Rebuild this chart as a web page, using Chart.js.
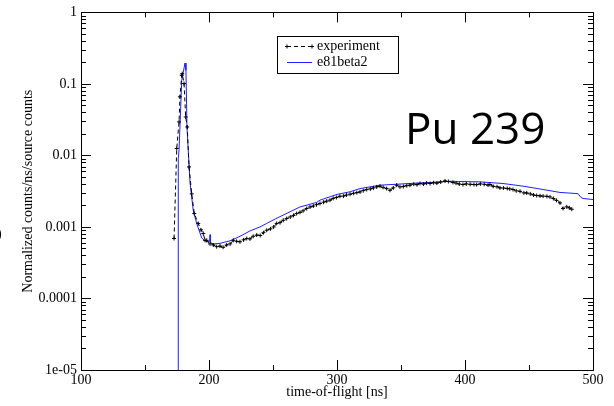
<!DOCTYPE html>
<html>
<head>
<meta charset="utf-8">
<script src="https://cdn.jsdelivr.net/npm/chart.js@4.4.1/dist/chart.umd.min.js"></script>
<style>
  html, body { margin: 0; padding: 0; background: #fff; }
  #wrap { width: 614px; height: 406px; position: relative; }
</style>
</head>
<body>
<div id="wrap"><canvas id="tof"></canvas></div>
<script>
// Pu-239 time-of-flight spectrum: measurement vs. simulation
const expTime = [172.7, 174.8, 176.6, 177.3, 178.7, 179.1, 180.5, 181.8, 183.0, 184.4, 186.5, 188.5,
  191.6, 193.75, 195.5, 196.9, 198.2, 200.8, 203.4, 206, 208.6, 211, 213.8, 216.5, 219, 221.6, 224.2,
  227, 229.5, 232, 234.5, 237.3, 240, 242.5, 245.1, 248, 250.5, 252.9, 255.5, 258, 260.7, 263.5, 266,
  268.5, 271.1, 273.5, 276.3, 278.9, 281.5, 284, 286.7, 289.5, 292, 294.5, 297, 299.5, 302.3, 305,
  307.5, 310.2, 313, 315.5, 318, 320.5, 323.2, 326, 328.5, 331, 333.6, 336, 338.8, 341.4, 344, 346.6,
  349.2, 351.8, 354.5, 357, 360, 362.5, 364.8, 367.5, 370, 372.7, 375.5, 378, 381, 384.4, 387, 390.6,
  393, 395.5, 398.4, 401, 404, 407, 409.1, 412, 415, 418, 419.5, 422, 425, 427.3, 430, 433, 435, 437.5,
  440, 443, 446, 448.2, 451, 453.5, 456, 458.6, 461, 464, 466.4, 469, 471.5, 474.2, 476.6, 479.5,
  481.5, 483.4];
const expCounts = [0.00069, 0.0125, 0.0294, 0.066, 0.132, 0.139, 0.101, 0.0345, 0.025, 0.0069, 0.0029,
  0.00154, 0.00112, 0.00091, 0.00081, 0.00065, 0.00065, 0.00058, 0.00056, 0.00053, 0.00054, 0.00052,
  0.00056, 0.00058, 0.00065, 0.00063, 0.00062, 0.00066, 0.00069, 0.00068, 0.00074, 0.00077, 0.00076,
  0.00083, 0.0009, 0.00094, 0.001, 0.00112, 0.00115, 0.00124, 0.00131, 0.00138, 0.00145, 0.00154,
  0.0016, 0.00168, 0.00181, 0.0019, 0.00196, 0.00205, 0.00213, 0.00222, 0.0023, 0.00237, 0.00251,
  0.00258, 0.00269, 0.0027, 0.0028, 0.00287, 0.00296, 0.00302, 0.00309, 0.00322, 0.00334, 0.0034,
  0.00352, 0.00363, 0.00372, 0.00358, 0.00344, 0.00326, 0.00352, 0.00384, 0.00363, 0.00368, 0.00378,
  0.00384, 0.00396, 0.0039, 0.00405, 0.00398, 0.0041, 0.00405, 0.00415, 0.0041, 0.00425, 0.0044,
  0.00432, 0.00419, 0.0041, 0.00398, 0.00392, 0.004, 0.00395, 0.00392, 0.0039, 0.004, 0.00395,
  0.00385, 0.00392, 0.0037, 0.00365, 0.00352, 0.0035, 0.00345, 0.0034, 0.00334, 0.0032, 0.00315,
  0.003, 0.00299, 0.0029, 0.0028, 0.00275, 0.00272, 0.0027, 0.00268, 0.00263, 0.0025, 0.00235,
  0.00217, 0.00181, 0.00191, 0.00185, 0.00177];
const simTime = [175.9, 176.0, 176.6, 178.7, 181.25, 182.0, 182.8, 183.8, 185.2, 187.7, 190.4, 194.3,
  198.2, 200.5, 200.8, 201.2, 203.4, 208.6, 216.4, 224.2, 232, 239.8, 245, 252, 263.3, 271, 284,
  286.7, 300, 310, 318, 333.6, 349.2, 364.8, 372.7, 388.3, 395, 411.7, 429.7, 445.3, 461, 474.2, 486,
  488.3, 490.5, 492.2, 500];
const simCounts = [0.000001, 0.009, 0.012, 0.112, 0.196, 0.155, 0.025, 0.0118, 0.0041, 0.0017, 0.00112,
  0.0007, 0.00062, 0.00063, 0.00078, 0.0006, 0.00058, 0.00059, 0.00064, 0.00074, 0.00088, 0.001,
  0.00112, 0.0013, 0.00163, 0.0019, 0.0022, 0.00237, 0.00285, 0.0031, 0.00344, 0.00384, 0.00398,
  0.00413, 0.00418, 0.00436, 0.00432, 0.00427, 0.00405, 0.00372, 0.00334, 0.00304, 0.00294, 0.00292,
  0.0026, 0.0025, 0.00242];
const seriesNames = ['experiment', 'e81beta2'];
const xTicks = [100, 200, 300, 400, 500];
const yTicks = [1, 0.1, 0.01, 0.001, 0.0001, 0.00001];
const yTickLabels = ['1', '0.1', '0.01', '0.001', '0.0001', '1e-05'];
const isotopeLabel = 'Pu 239';

const serif = '"Liberation Serif", "Times New Roman", serif';

function toPoints(xs, ys) {
    return xs.map((x, i) => ({ x: x, y: ys[i] }));
}

// inward ticks on all four sides, plus the frame
const frameTicks = {
    id: 'frameTicks',
    afterDatasetsDraw(chart) {
        const { ctx, chartArea: a, scales: { x, y } } = chart;
        ctx.save();
        ctx.strokeStyle = '#000';
        ctx.lineWidth = 1;
        const seg = (x1, y1, x2, y2) => {
            ctx.beginPath();
            ctx.moveTo(x1, y1);
            ctx.lineTo(x2, y2);
            ctx.stroke();
        };
        for (let v = xTicks[0]; v <= xTicks[xTicks.length - 1]; v += 50) {
            const px = Math.round(x.getPixelForValue(v)) + 0.5;
            const len = xTicks.includes(v) ? 10 : 5;
            seg(px, a.bottom, px, a.bottom - len);
            seg(px, a.top, px, a.top + len);
        }
        yTicks.forEach(dec => {
            const py = Math.round(y.getPixelForValue(dec)) + 0.5;
            seg(a.left, py, a.left + 10, py);
            seg(a.right, py, a.right - 10, py);
            if (dec >= 1) return;
            for (let k = 2; k <= 9; k++) {
                const pm = Math.round(y.getPixelForValue(dec * k)) + 0.5;
                seg(a.left, pm, a.left + 5, pm);
                seg(a.right, pm, a.right - 5, pm);
            }
        });
        ctx.strokeRect(Math.round(a.left) + 0.5, Math.round(a.top) + 0.5,
            Math.round(a.right - a.left), Math.round(a.bottom - a.top));
        ctx.restore();
    },
    afterDraw(chart) {
        const ctx = chart.ctx;
        const ds = chart.data.datasets;
        ctx.save();
        // legend box
        const bx = 277, by = 36, bw = 121, bh = 37;
        ctx.fillStyle = '#fff';
        ctx.fillRect(bx, by, bw, bh);
        ctx.strokeStyle = '#000';
        ctx.lineWidth = 1;
        ctx.strokeRect(bx + 0.5, by + 0.5, bw, bh);
        ctx.font = '14px ' + serif;
        ctx.textBaseline = 'middle';
        ctx.textAlign = 'left';
        ds.forEach((d, i) => {
            const ry = by + 10.5 + i * 16;
            ctx.strokeStyle = d.borderColor;
            ctx.lineWidth = 1;
            ctx.setLineDash(d.borderDash || []);
            ctx.beginPath();
            ctx.moveTo(287, ry);
            ctx.lineTo(312, ry);
            ctx.stroke();
            ctx.setLineDash([]);
            if (d.pointRadius > 0) {
                [287, 312].forEach(px => {
                    ctx.beginPath();
                    ctx.moveTo(px - 2, ry); ctx.lineTo(px + 2, ry);
                    ctx.moveTo(px, ry - 2); ctx.lineTo(px, ry + 2);
                    ctx.stroke();
                });
            }
            ctx.fillStyle = '#000';
            ctx.fillText(d.label, 317, ry);
        });
        // isotope tag
        ctx.font = '44px "Open Sans", "Noto Sans", sans-serif';
        ctx.textBaseline = 'alphabetic';
        ctx.fillStyle = '#000';
        ctx.fillText(isotopeLabel, 405, 144);
        // cut-off character at the left edge
        ctx.font = '14px ' + serif;
        ctx.fillText(')', -3, 238);
        ctx.restore();
    }
};

new Chart(document.getElementById('tof'), {
    type: 'line',
    data: {
        datasets: [{
            label: seriesNames[0],
            data: toPoints(expTime, expCounts),
            borderColor: '#000',
            backgroundColor: '#000',
            borderWidth: 1,
            borderDash: [4, 3],
            pointStyle: 'cross',
            pointRadius: 2,
            pointBorderWidth: 1,
            pointBorderColor: '#000',
            tension: 0
        }, {
            label: seriesNames[1],
            data: toPoints(simTime, simCounts),
            borderColor: '#1f1fff',
            borderWidth: 1,
            pointRadius: 0,
            tension: 0
        }]
    },
    options: {
        responsive: true,
        maintainAspectRatio: false,
        animation: false,
        events: [],
        layout: { padding: { left: 0, top: 12, right: 21, bottom: 0 } },
        plugins: {
            legend: { display: false },
            tooltip: { enabled: false }
        },
        scales: {
            x: {
                type: 'linear',
                min: 100,
                max: 500,
                afterFit: s => { s.height = 36; },
                afterBuildTicks: s => { s.ticks = xTicks.map(v => ({ value: v })); },
                grid: { display: false, drawTicks: false },
                border: { display: false },
                ticks: {
                    padding: 2,
                    maxRotation: 0,
                    color: '#000',
                    font: { family: serif, size: 14 },
                    callback: v => String(v)
                },
                title: {
                    display: true,
                    text: 'time-of-flight [ns]',
                    color: '#000',
                    font: { family: serif, size: 14 },
                    padding: { top: 0, bottom: 5 }
                }
            },
            y: {
                type: 'logarithmic',
                min: 0.00001,
                max: 1,
                afterFit: s => { s.width = 81; },
                afterBuildTicks: s => { s.ticks = yTicks.map(v => ({ value: v })); },
                grid: { display: false, drawTicks: false },
                border: { display: false },
                ticks: {
                    padding: 4,
                    color: '#000',
                    font: { family: serif, size: 14 },
                    callback: (v, i) => yTickLabels[i]
                },
                title: {
                    display: true,
                    text: 'Normalized counts/ns/source counts',
                    color: '#000',
                    font: { family: serif, size: 14 },
                    padding: { top: 20, bottom: 0 }
                }
            }
        }
    },
    plugins: [frameTicks]
});
</script>
</body>
</html>
